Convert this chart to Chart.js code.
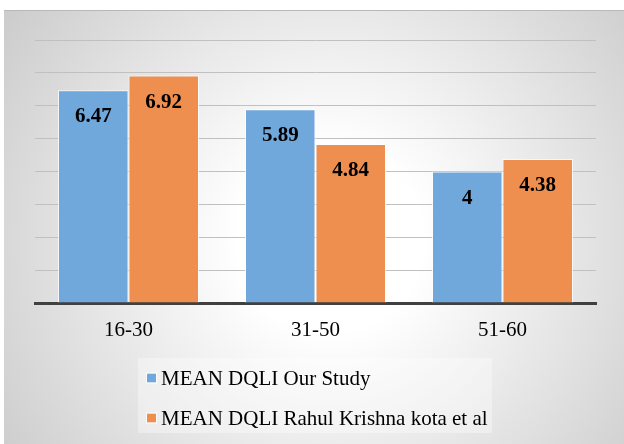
<!DOCTYPE html>
<html>
<head>
<meta charset="utf-8">
<script src="https://cdn.jsdelivr.net/npm/chart.js@4/dist/chart.umd.min.js"></script>
<style>
    html, body { margin: 0; padding: 0; background: #fff; }
    #wrap { width: 624px; height: 444px; position: relative; }
</style>
</head>
<body>
<div id="wrap"><canvas id="dqliChart"></canvas></div>
<script>
const ageGroups = ['16-30', '31-50', '51-60'];
const ourStudy = [6.47, 5.89, 4];
const rahulKota = [6.92, 4.84, 4.38];
const seriesNames = ['MEAN DQLI Our Study', 'MEAN DQLI Rahul Krishna kota et al'];
const yTicks = [0, 1, 2, 3, 4, 5, 6, 7, 8];

const serif = "'Liberation Serif', Tinos, 'Times New Roman', Times, 'DejaVu Serif', serif";

// panel background with soft radial shading
const panelBackground = {
    id: 'panelBackground',
    beforeDraw(chart) {
        const ctx = chart.ctx;
        ctx.save();
        ctx.fillStyle = '#ffffff';
        ctx.fillRect(0, 0, chart.width, chart.height);
        const g = ctx.createRadialGradient(330, 240, 0, 330, 240, 420);
        g.addColorStop(0, '#ffffff');
        g.addColorStop(0.22, '#ffffff');
        g.addColorStop(1, '#c8c8c8');
        ctx.fillStyle = g;
        ctx.fillRect(4, 10, chart.width - 4, chart.height - 10);
        ctx.strokeStyle = '#b8b8b8';
        ctx.lineWidth = 1;
        ctx.beginPath();
        ctx.moveTo(4, 10.5);
        ctx.lineTo(chart.width, 10.5);
        ctx.stroke();
        ctx.restore();
    }
};

// value labels inside the bars
const barValues = {
    id: 'barValues',
    afterDatasetsDraw(chart) {
        const ctx = chart.ctx;
        ctx.save();
        ctx.font = 'bold 21px ' + serif;
        ctx.fillStyle = '#000000';
        ctx.textAlign = 'center';
        ctx.textBaseline = 'alphabetic';
        chart.data.datasets.forEach(function (ds, i) {
            chart.getDatasetMeta(i).data.forEach(function (bar, j) {
                ctx.fillText(String(ds.data[j]), bar.x, bar.y + 32);
            });
        });
        ctx.restore();
    }
};

// stacked legend under the axis
const stackedLegend = {
    id: 'stackedLegend',
    afterDraw(chart) {
        const ctx = chart.ctx;
        ctx.save();
        ctx.fillStyle = 'rgba(255,255,255,0.35)';
        ctx.fillRect(138, 358, 354, 75);
        ctx.font = '21px ' + serif;
        ctx.textAlign = 'left';
        ctx.textBaseline = 'alphabetic';
        chart.data.datasets.forEach(function (ds, i) {
            const cy = 378 + i * 40;
            ctx.fillStyle = ds.backgroundColor;
            ctx.fillRect(147, cy - 4.5, 9, 9);
            ctx.strokeStyle = 'rgba(255,255,255,0.8)';
            ctx.lineWidth = 1;
            ctx.strokeRect(146.5, cy - 5, 10, 10);
            ctx.fillStyle = '#000000';
            ctx.fillText(ds.label, 161, cy + 7);
        });
        ctx.restore();
    }
};

const ctx = document.getElementById('dqliChart').getContext('2d');
new Chart(ctx, {
    type: 'bar',
    data: {
        labels: ageGroups,
        datasets: [
            {
                label: seriesNames[0],
                data: ourStudy,
                backgroundColor: '#70a8dc',
                borderColor: 'rgba(255,255,255,0.75)',
                borderWidth: 1
            },
            {
                label: seriesNames[1],
                data: rahulKota,
                backgroundColor: '#ee8f50',
                borderColor: 'rgba(255,255,255,0.75)',
                borderWidth: 1
            }
        ]
    },
    options: {
        responsive: true,
        maintainAspectRatio: false,
        animation: false,
        categoryPercentage: 0.754,
        barPercentage: 1.0,
        layout: {
            padding: { left: 35, right: 28, top: 40, bottom: 0 }
        },
        scales: {
            x: {
                grid: { display: false, drawTicks: false },
                border: { display: true, color: '#404040', width: 3 },
                ticks: {
                    padding: 15,
                    color: '#000000',
                    font: { family: serif, size: 21 }
                },
                afterFit: function (scale) { scale.height = 141; }
            },
            y: {
                min: yTicks[0],
                max: yTicks[yTicks.length - 1],
                afterBuildTicks: function (scale) {
                    scale.ticks = yTicks.map(function (v) { return { value: v }; });
                },
                grid: { color: '#c0c0c0', lineWidth: 1, drawTicks: false },
                border: { display: false },
                ticks: { display: false }
            }
        },
        plugins: {
            legend: { display: false },
            tooltip: { enabled: false }
        }
    },
    plugins: [panelBackground, barValues, stackedLegend]
});
</script>
</body>
</html>
